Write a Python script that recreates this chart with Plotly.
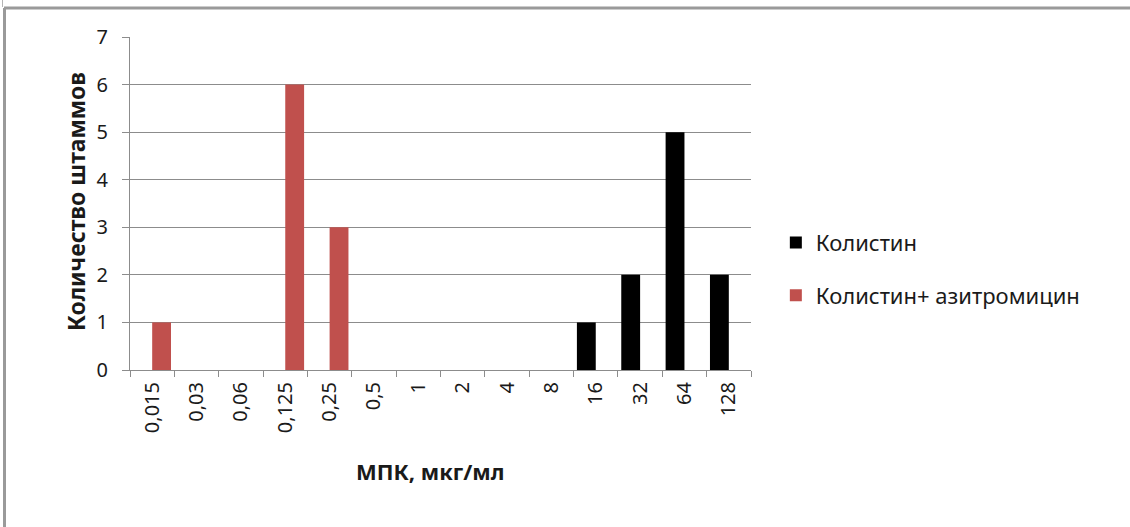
import plotly.graph_objects as go

# MIC categories (µg/ml) and strain counts per series
mic_labels = ["0,015", "0,03", "0,06", "0,125", "0,25", "0,5", "1", "2",
              "4", "8", "16", "32", "64", "128"]
colistin = [0, 0, 0, 0, 0, 0, 0, 0, 0, 0, 1, 2, 5, 2]
colistin_azithro = [1, 0, 0, 6, 3, 0, 0, 0, 0, 0, 0, 0, 0, 0]
y_ticks = [0, 1, 2, 3, 4, 5, 6, 7]

FONT = "Noto Sans"
GRID = "#8c8c8c"
TEXT = "#1a1a1a"

fig = go.Figure()
fig.add_trace(go.Bar(
    x=mic_labels, y=colistin, name="Колистин",
    marker=dict(color="#000000", line=dict(width=0)),
    legendgroup="a",
))
fig.add_trace(go.Bar(
    x=mic_labels, y=colistin_azithro, name="Колистин+ азитромицин",
    marker=dict(color="#C0504D", line=dict(width=0)),
    legendgroup="b",
))

fig.update_layout(
    width=1130, height=527,
    margin=dict(l=130, r=379, t=37, b=157),
    paper_bgcolor="white", plot_bgcolor="white",
    barmode="group", bargap=0.15, bargroupgap=0.0,
    font=dict(family=FONT, color=TEXT),
    showlegend=True,
    legend=dict(
        x=1.04, y=0.445, xanchor="left", yanchor="top",
        font=dict(size=22, family=FONT, color=TEXT),
        tracegroupgap=21, bgcolor="rgba(0,0,0,0)",
    ),
    xaxis=dict(
        type="category", tickson="boundaries",
        ticks="outside", ticklen=6, tickcolor=GRID,
        showline=True, linecolor=GRID, linewidth=1,
        tickangle=-90, tickfont=dict(size=20, family=FONT),
        ticklabelstandoff=3,
        showgrid=False,
    ),
    yaxis=dict(
        range=[0, 7], tickvals=y_ticks,
        ticks="outside", ticklen=7, tickcolor=GRID,
        showline=True, linecolor=GRID, linewidth=1,
        showgrid=True, gridcolor=GRID, gridwidth=1,
        tickfont=dict(size=20, family=FONT),
        ticklabelstandoff=10,
        zeroline=False,
    ),
)

W, H = 1130, 527
x0p, x1p, y0p, y1p = 130, 751, 37, 370


def px_x(px):
    return (px - x0p) / (x1p - x0p)


def px_y(py):
    return (y1p - py) / (y1p - y0p)


# axis titles
fig.add_annotation(text="<b>МПК, мкг/мл</b>", xref="paper", yref="paper",
                   x=px_x(430), y=px_y(488), showarrow=False,
                   font=dict(size=22, family=FONT, color=TEXT))
fig.add_annotation(text="<b>Количество штаммов</b>", xref="paper", yref="paper",
                   x=px_x(58), y=px_y(202), showarrow=False, textangle=-90,
                   font=dict(size=23, family=FONT, color=TEXT))

# outer frame lines along the top and left of the figure
frame = "#9a9a9a"
fig.add_shape(type="line", xref="paper", yref="paper",
              x0=px_x(4), x1=px_x(W), y0=px_y(8), y1=px_y(8),
              line=dict(color=frame, width=3))
fig.add_shape(type="line", xref="paper", yref="paper",
              x0=px_x(4.5), x1=px_x(4.5), y0=px_y(8), y1=px_y(H),
              line=dict(color=frame, width=3))
fig.add_shape(type="line", xref="paper", yref="paper",
              x0=px_x(2.5), x1=px_x(2.5), y0=px_y(0), y1=px_y(7),
              line=dict(color="#b5b5b5", width=1))

fig.write_html("out.html")
